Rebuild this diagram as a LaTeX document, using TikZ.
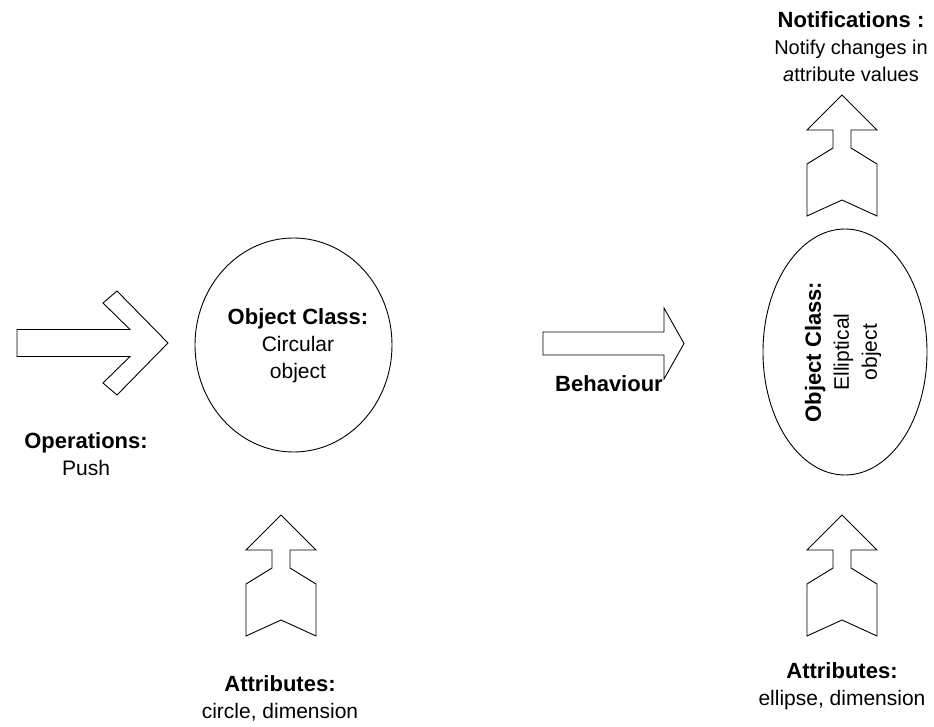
\documentclass[tikz,border=0pt]{standalone}
\usepackage{fontspec}
\setmainfont{Liberation Sans}
\usetikzlibrary{shapes.geometric}
\newcommand\headtext[1]{{\fontsize{22}{27}\selectfont\bfseries #1}}
\begin{document}
\begin{tikzpicture}[x=1pt,y=-1pt,
  block/.style={draw=black,line width=0.9pt,line join=miter,fill=white},
  lbl/.style={align=center,font=\fontsize{21}{27}\selectfont,inner sep=0pt},
  outline/.style={draw=black,line width=0.9pt},
  up block/.pic={
    \path[block] (0,0) -- (35,35) -- (9,35) -- (9,53) -- (35,69) -- (35,121)
      -- (0,105) -- (-35,121) -- (-35,69) -- (-9,53) -- (-9,35) -- (-35,35) -- cycle;}
]
\useasboundingbox (0,0) rectangle (934,727);

% block arrow pointing at the circular object
\path[block] (17,329.5) -- (130,329.5) -- (103,303) -- (117,291) -- (168,343)
  -- (117,395) -- (103,383) -- (130,356.5) -- (17,356.5) -- cycle;

% circular object
\node (circ) [outline, ellipse, minimum width=197, minimum height=214, inner sep=0pt] at (293.5,345) {};
\node (circtxt) [lbl] at (298,346) {\headtext{Object Class:}\\Circular\\object};

% behaviour arrow
\path[block] (543,332) -- (664,332) -- (664,308) -- (684,343.5) -- (664,379)
  -- (664,355) -- (543,355) -- cycle;
\node (beh) [lbl] at (609,384) {\headtext{Behaviour}};

% elliptical object
\node (ell) [outline, ellipse, minimum width=164, minimum height=246, inner sep=0pt] at (845,352) {};
\node (elltxt) [lbl, rotate=90, font=\fontsize{21}{28}\selectfont] at (843,352) {\headtext{Object Class:}\\Elliptical\\object};

% up arrows
\pic at (281,515) {up block};
\pic at (842,515) {up block};
\pic at (842,95) {up block};

% labels
\node (notif) [lbl, font=\fontsize{20}{27}\selectfont] at (851,47) {\headtext{Notifications :}\\Notify changes in\\\textit{a}ttribute values};
\node (ops) [lbl] at (86,454) {\headtext{Operations:}\\Push};
\node (attl) [lbl] at (280,698.5) {\headtext{Attributes:}\\circle, dimension};
\node (attr) [lbl] at (842,686) {\headtext{Attributes:}\\ellipse, dimension};
\end{tikzpicture}
\end{document}
